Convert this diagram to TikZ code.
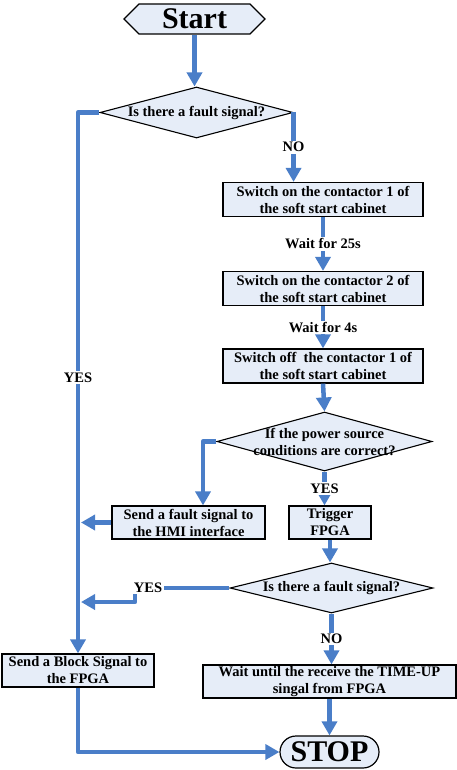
\documentclass[tikz,border=0pt]{standalone}
\usepackage{fontspec}
\setmainfont{Liberation Serif}
\usetikzlibrary{arrows.meta,shapes.geometric,shapes.symbols}
\definecolor{fb}{HTML}{4A7EC8}
\definecolor{bf}{HTML}{E6EDF8}
\tikzset{
  box/.style={draw=black, line width=1.2pt, fill=bf, inner sep=0pt, align=center,
    font=\bfseries\fontsize{14.5}{17}\selectfont, minimum height=34pt},
  dia/.style={draw=black, line width=1.1pt, fill=bf, diamond, inner sep=0pt},
  dtext/.style={align=center, font=\bfseries\fontsize{14.5}{17}\selectfont, inner sep=0pt},
  conn/.style={line width=4.5pt, draw=fb, line join=round, -{Triangle[width=15pt,length=14pt]}},
  lbl/.style={fill=white, inner sep=1.5pt, font=\bfseries\fontsize{14.5}{16}\selectfont},
}
\begin{document}
\begin{tikzpicture}[x=1pt,y=-1pt]
\useasboundingbox (0,0) rectangle (457,770);
% nodes
\node[draw=black, line width=1.2pt, fill=bf, signal, signal to=west and east, minimum width=141pt, minimum height=30pt, inner sep=0pt, font=\bfseries\fontsize{30}{30}\selectfont] (start) at (194.5,19) {Start};
\node[dia, minimum width=193pt, minimum height=51pt] (d1) at (196.5,112.5) {};
\node[dtext] (d1t) at (196.5,112.5) {Is there a fault signal?};
\node[box, minimum width=200pt] (b1) at (323,199.5) {Switch on the contactor 1 of\\the soft start cabinet};
\node[box, minimum width=200pt] (b2) at (323,288.5) {Switch on the contactor 2 of\\the soft start cabinet};
\node[box, minimum width=200pt] (b3) at (323,366) {Switch off\ \ the contactor 1 of\\the soft start cabinet};
\node[dia, minimum width=215pt, minimum height=59pt] (d2) at (324.5,441.5) {};
\node[dtext] (d2t) at (324.5,441.5) {If the power source\\conditions are correct?};
\node[box, minimum width=153pt, minimum height=33pt] (hmi) at (188.5,522.5) {Send a fault signal to\\the HMI interface};
\node[box, minimum width=82pt, minimum height=33pt] (trig) at (330,522.5) {Trigger\\FPGA};
\node[dia, minimum width=203pt, minimum height=50pt] (d3) at (331.5,588) {};
\node[dtext] (d3t) at (331.5,588) {Is there a fault signal?};
\node[box, minimum width=152pt, minimum height=33pt] (blk) at (78,670.5) {Send a Block Signal to\\the FPGA};
\node[box, minimum width=253pt, minimum height=33pt] (wait) at (329.5,681.5) {Wait until the receive the TIME-UP\\singal from FPGA};
\node[draw=black, line width=1.2pt, fill=bf, rounded corners=16pt, minimum width=99pt, minimum height=32pt, inner sep=0pt, font=\bfseries\fontsize{30}{30}\selectfont] (stop) at (329.5,752) {STOP};
% helper coordinates
\coordinate (c1) at (78,112.5);
\coordinate (c2) at (203,441.5);
\coordinate (c3) at (81,522.5);
\coordinate (c4) at (135,588);
\coordinate (c5) at (135,602);
\coordinate (c6) at (81,602);
\coordinate (c7) at (78,752);
% connectors
\draw[conn] (start.south) -- (start.south |- d1.north);
\draw[conn] (d1.east) -- (d1.east |- b1.north) node[lbl, pos=0.5] {NO};
\draw[conn] (b1.south) -- (b2.north) node[lbl, midway] {Wait for 25s};
\draw[conn] (b2.south) -- (b3.north) node[lbl, midway] {Wait for 4s};
\draw[conn] (b3.south) -- (d2.north);
\draw[conn] (d2.west) -- (c2) -- (c2 |- hmi.north);
\draw[conn] (hmi.west) -- (c3);
\draw[conn] (d2.south) -- (d2.south |- trig.north) node[lbl, midway] {YES};
\draw[conn] (trig.south) -- (trig.south |- d3.north);
\draw[conn] (d3.west) -- (c4) -- (c5) -- (c6);
\node[lbl] (y3) at (148,588) {YES};
\draw[conn] (d3.south) -- (d3.south |- wait.north) node[lbl, midway] {NO};
\draw[conn] (wait.south) -- (wait.south |- stop.north);
\draw[conn] (d1.west) -- (c1) -- (blk.north) node[lbl, pos=0.49] {YES};
\draw[conn] (blk.south) -- (c7) -- (stop.west);
\end{tikzpicture}
\end{document}
